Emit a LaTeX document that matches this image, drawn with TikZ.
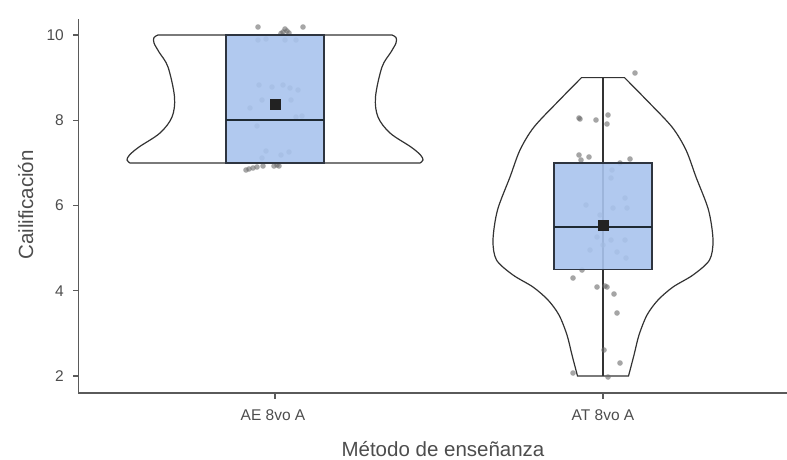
\documentclass[tikz,border=0pt]{standalone}
\usepackage{fontspec}
\setmainfont{Liberation Sans}
\begin{document}
\begin{tikzpicture}[x=1pt,y=-1pt,
  axisline/.style={draw=axisgray,line width=1.2pt},
  violin/.style={draw=violinline,line width=1.2pt,fill=white},
  boxq/.style={draw=boxedge,line width=1.2pt,fill=boxblue,fill opacity=0.9},
  medline/.style={draw=medcol,line width=2.4pt},
  meanmark/.style={fill=meancol,draw=none,minimum size=11pt,inner sep=0pt,shape=rectangle},
  dot/.style={fill=dotgray,fill opacity=0.6,draw=none,circle,inner sep=0pt,minimum size=5.6pt},
  ticklab/.style={text=labgray,font=\fontsize{15.5}{16}\selectfont,inner sep=0pt},
  titlelab/.style={text=labgray,font=\fontsize{20.5}{22}\selectfont,inner sep=0pt}]
\definecolor{axisgray}{HTML}{5A5A5A}
\definecolor{violinline}{HTML}{333333}
\definecolor{boxedge}{HTML}{2E3540}
\definecolor{boxblue}{HTML}{A9C4EE}
\definecolor{medcol}{HTML}{1E2A33}
\definecolor{meancol}{HTML}{222222}
\definecolor{dotgray}{HTML}{6A6A6A}
\definecolor{labgray}{HTML}{4D4D4D}
\useasboundingbox (0,0) rectangle (787,459);

% axes
\coordinate (ytop) at (78.5,19);
\coordinate (origin) at (78.5,393);
\coordinate (xend) at (787,393);
\draw[axisline] (ytop) -- (origin) -- (xend);

% y ticks
\foreach \v/\yy in {10/35,8/120.25,6/205.5,4/290.75,2/376}{
  \coordinate (yt\v) at (78.5,\yy);
  \coordinate (ytl\v) at (73,\yy);
  \draw[axisline] (ytl\v) -- (yt\v);
  \node[ticklab,anchor=east] (ylab\v) at (64,\yy) {\v};
}
% x ticks
\coordinate (xtA) at (275,393);
\coordinate (xtAb) at (275,398.5);
\coordinate (xtB) at (603,393);
\coordinate (xtBb) at (603,398.5);
\draw[axisline] (xtA) -- (xtAb);
\draw[axisline] (xtB) -- (xtBb);
\node[ticklab,anchor=base] (xlabA) at (273,420.5) {AE 8vo A};
\node[ticklab,anchor=base] (xlabB) at (603,420.5) {AT 8vo A};

% titles
\node[titlelab,anchor=base] (xtitle) at (443,456) {Método de enseñanza};
\node[titlelab,anchor=base,rotate=90] (ytitle) at (33,205) {Cailificación};

% violin AE
\draw[violin] (158,35) -- plot[smooth,tension=0.55] coordinates {(392,35) (396,37.5) (396,43) (391,52) (382,67) (375.5,97) (378,117) (390,133) (411,147) (420.5,155) (423,160) (420,163)}
  -- plot[smooth,tension=0.55] coordinates {(130,163) (127,160) (129.5,155) (139,147) (160,133) (172,117) (174.5,97) (168,67) (159,52) (154,43) (154,37.5) (158,35)} -- cycle;

% violin AT
\draw[violin] (581.5,77.6) -- plot[smooth,tension=0.5] coordinates {(624.5,77.6) (646.5,100) (672,127) (686,150) (696,177) (708.5,210) (713,240) (709.5,260) (693,275) (673,287) (658,300) (647,315) (639,335) (634,355) (628.5,376)}
  -- plot[smooth,tension=0.5] coordinates {(577.5,376) (572,355) (567,335) (559,315) (548,300) (533,287) (513,275) (496.5,260) (493,240) (497.5,210) (510,177) (520,150) (534,127) (559.5,100) (581.5,77.6)} -- cycle;

% whisker AT
\coordinate (wtop) at (603,77.6);
\coordinate (wbot) at (603,376);
\draw[draw=violinline,line width=1.2pt] (wtop) -- (wbot);

% points AE
\foreach \px/\py [count=\i] in {258/27,303/27,285/29,287/31,283/32,289/33,281/33.5,246/170,249/169,253/168,257/167,263/166,274/166,277/165,279/166,
  258/40,266/39,285/40,296/40,259/85,272/87,283/85,290/88,262/100,291/100,298/90,302/116,296/117,257/126,266/151,281/155,289/152,262/158,250/108}
  \node[dot] (pa\i) at (\px,\py) {};
% points AT
\foreach \px/\py [count=\i] in {635/73,579/118,580/119,596/120,608/115,607/124,579/155,589/157,581/160,620/163,630/159,582/270,573/278,597/287,605/286,607/287,614/294,617/313,604/350,620/363,573/373,608/377,
  612/170,611/178,625/198,586/205,613/208,627/208,597/237,611/240,625/240,590/250,603/245,617/252,626/258,600/215}
  \node[dot] (pb\i) at (\px,\py) {};

% boxes
\draw[boxq] (226,35) rectangle (324,162.9);
\draw[boxq] (554,162.9) rectangle (652,269.4);

% medians
\coordinate (mA1) at (226,120.25);
\coordinate (mA2) at (324,120.25);
\coordinate (mB1) at (554,226.8);
\coordinate (mB2) at (652,226.8);
\draw[medline] (mA1) -- (mA2);
\draw[medline] (mB1) -- (mB2);

% means
\node[meanmark] (meanA) at (275,104) {};
\node[meanmark] (meanB) at (603,225.5) {};
\end{tikzpicture}
\end{document}
